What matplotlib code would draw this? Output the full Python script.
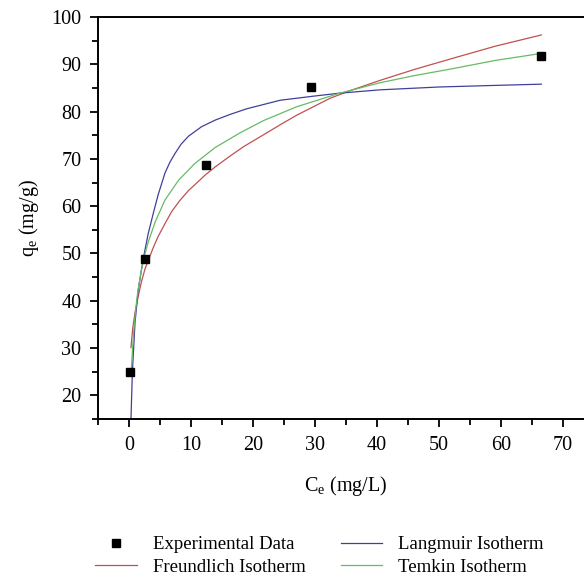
import matplotlib

matplotlib.use("Agg")
import matplotlib.pyplot as plt
from matplotlib.ticker import MultipleLocator

plt.rcParams["font.family"] = ["Liberation Serif", "DejaVu Serif"]
plt.rcParams["mathtext.fontset"] = "custom"
plt.rcParams["mathtext.rm"] = "Liberation Serif"

# experimental points
ce_exp = [0.2, 2.5, 12.4, 29.4, 66.5]
qe_exp = [25.0, 48.8, 68.8, 85.3, 91.7]

# fitted isotherm curves
ce_lang = [0.32, 0.54, 0.97, 1.5, 2.3, 3.1, 3.9, 4.7, 5.8, 6.6, 7.4, 8.4, 9.6,
           11.7, 13.9, 16.3, 19.0, 24.4, 30.0, 34.0, 40.5, 50.0, 58.0, 66.5]
qe_lang = [15.0, 24.8, 35.4, 42.4, 48.9, 54.2, 58.4, 62.4, 67.0, 69.3, 71.1,
           73.1, 74.8, 76.8, 78.2, 79.4, 80.6, 82.4, 83.3, 83.9, 84.6, 85.2,
           85.5, 85.8]

ce_freu = [0.32, 0.6, 0.97, 1.5, 2.0, 2.6, 3.1, 3.9, 4.7, 5.8, 6.9, 8.2, 9.6,
           11.0, 12.3, 13.9, 16.3, 18.5, 21.7, 24.5, 27.0, 30.0, 32.4, 35.6,
           40.5, 46.0, 52.3, 59.0, 66.5]
qe_freu = [30.1, 34.2, 37.5, 41.0, 44.0, 46.8, 48.5, 51.2, 53.6, 56.3, 58.9,
           61.2, 63.3, 65.0, 66.6, 68.3, 70.6, 72.6, 75.1, 77.3, 79.2, 81.2,
           82.8, 84.4, 86.6, 88.9, 91.3, 93.8, 96.2]

ce_temk = [0.35, 0.6, 0.85, 1.1, 1.4, 2.0, 2.6, 3.1, 4.2, 5.8, 8.0, 10.6,
           13.9, 17.9, 21.7, 27.0, 34.0, 40.5, 46.0, 52.3, 59.0, 66.5]
qe_temk = [25.0, 30.5, 35.0, 38.4, 41.8, 46.5, 50.0, 52.4, 56.6, 61.3, 65.5,
           69.0, 72.4, 75.5, 78.1, 81.0, 83.9, 86.1, 87.6, 89.1, 90.8, 92.3]

fig = plt.figure(figsize=(5.84, 5.75), dpi=100)
ax = fig.add_axes([98 / 584, 1 - 419 / 575, 496 / 584, 402 / 575])

ax.plot(ce_exp, qe_exp, "s", color="black", ms=5.5, label="Experimental Data", zorder=3)
ax.plot(ce_freu, qe_freu, color="#c05050", lw=0.9, label="Freundlich Isotherm")
ax.plot(ce_lang, qe_lang, color="#40409c", lw=0.9, label="Langmuir Isotherm")
ax.plot(ce_temk, qe_temk, color="#66bb66", lw=0.9, label="Temkin Isotherm")

ax.set_xlim(-5, 75)
ax.set_ylim(15, 100)
ax.xaxis.set_major_locator(MultipleLocator(10))
ax.xaxis.set_minor_locator(MultipleLocator(5))
ax.yaxis.set_major_locator(MultipleLocator(10))
ax.yaxis.set_minor_locator(MultipleLocator(5))
ax.tick_params(which="both", direction="out", width=1.3, labelsize=14.5,
               top=False, right=False)
ax.tick_params(which="major", length=6, pad=6)
ax.tick_params(which="minor", length=4)
for s in ax.spines.values():
    s.set_linewidth(1.4)
ax.spines["right"].set_visible(False)

ax.set_xlabel(r"C$_\mathregular{e}$ (mg/L)", fontsize=14.5, labelpad=14)
ax.set_ylabel(r"q$_\mathregular{e}$ (mg/g)", fontsize=14.5, labelpad=7)

fig.legend(loc="center", bbox_to_anchor=(0.547, 0.033), ncol=2, frameon=False,
           fontsize=13.5, handlelength=2.2, handletextpad=0.85, columnspacing=1.9,
           labelspacing=0.3)

fig.savefig("out.png", dpi=100)
